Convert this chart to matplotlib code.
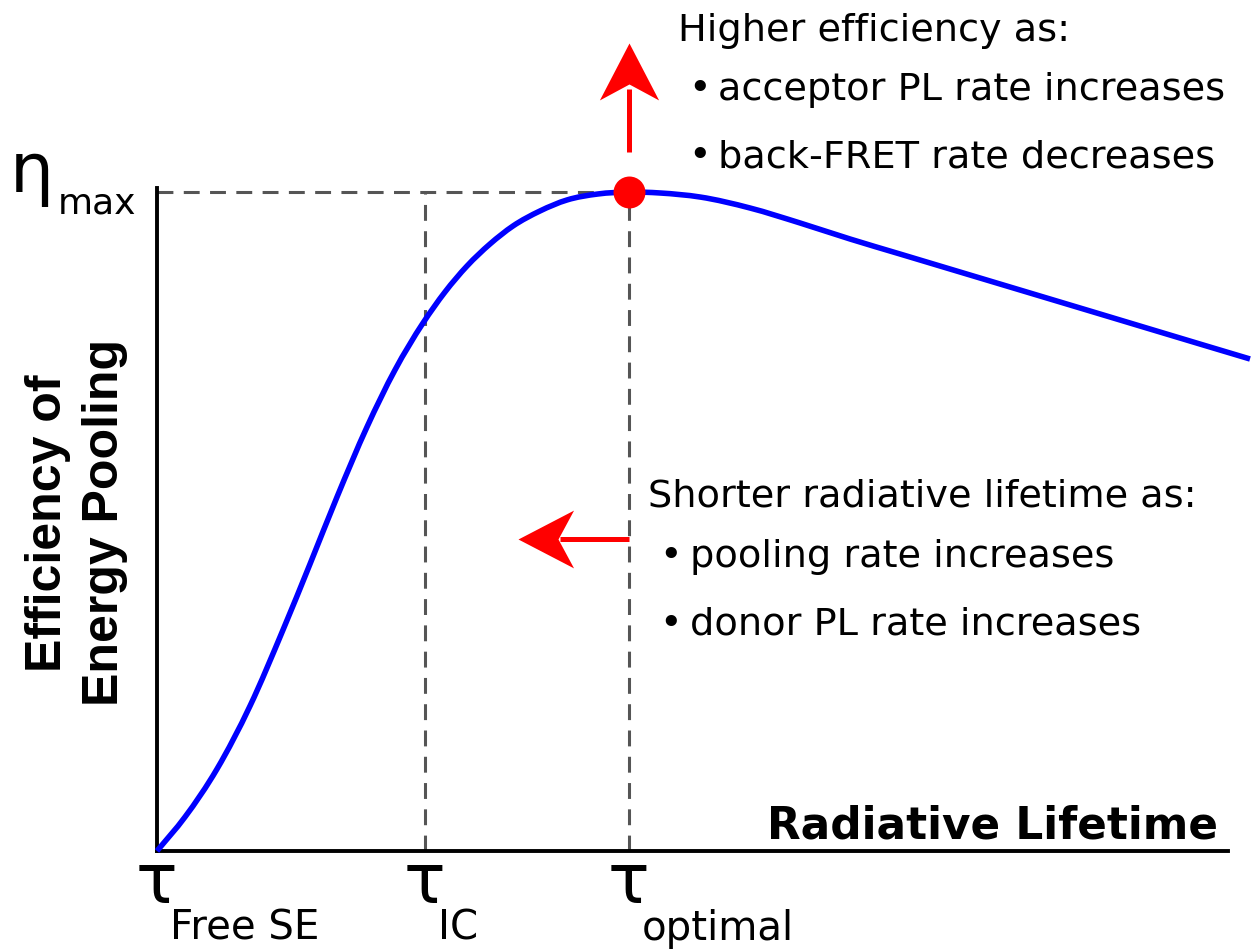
import matplotlib
matplotlib.use("Agg")
import matplotlib.pyplot as plt
import matplotlib.transforms as mtransforms
from matplotlib.path import Path
from matplotlib.patches import PathPatch

# ---- data (relative units: tau_optimal = 1, eta_max = 1) ----
lifetime = [0.0, 0.0593, 0.1271, 0.1970, 0.2669, 0.3242, 0.3814, 0.4449, 0.5042,
            0.5636, 0.6102, 0.6568, 0.7055, 0.7542, 0.8114, 0.8686, 0.9343, 1.0,
            1.0657, 1.1504, 1.2564, 1.3623, 1.4682, 1.5742, 1.7860, 1.9979,
            2.2097, 2.3157]
efficiency = [0.0, 0.0516, 0.1244, 0.2200, 0.3354, 0.4355, 0.5372, 0.6434, 0.7299,
              0.8012, 0.8483, 0.8877, 0.9211, 0.9484, 0.9712, 0.9879, 0.9970, 1.0,
              0.9985, 0.9924, 0.9757, 0.9530, 0.9287, 0.9059, 0.8604, 0.8149,
              0.7693, 0.7466]
tau_free_se = 0.0
tau_ic = 0.568
tau_opt = 1.0
eta_max = 1.0
xtick_pos = [tau_free_se, tau_ic, tau_opt]
xtick_subs = ['Free SE', 'IC', 'optimal']
tau_sym = '\u03c4'
eta_sym = '\u03b7'
eta_sub = 'max'
x_title = 'Radiative Lifetime'
y_title_lines = ['Efficiency of', 'Energy Pooling']
up_title = 'Higher efficiency as:'
up_items = ['acceptor PL rate increases', 'back-FRET rate decreases']
left_title = 'Shorter radiative lifetime as:'
left_items = ['pooling rate increases', 'donor PL rate increases']

plt.rcParams['font.family'] = ['DejaVu Sans']

W, H = 1258, 953
fig = plt.figure(figsize=(W / 100, H / 100), dpi=100)

def fx(px):
    return px / W

def fy(py):
    return 1 - py / H

X0, Y0, XU, YU = 157, 852, 472, 659   # axes origin (px) and unit lengths (px)

def dy(py):
    return (Y0 - py) / YU

ax = fig.add_axes([fx(X0), fy(Y0), (W - X0) / W, Y0 / H])
ax.set_xlim(0, (W - X0) / XU)
ax.set_ylim(0, Y0 / YU)
ax.set_xticks([])
ax.set_yticks([])
for s in ['top', 'right']:
    ax.spines[s].set_visible(False)
ax.spines['left'].set_linewidth(2.8)
ax.spines['bottom'].set_linewidth(2.8)
ax.spines['left'].set_bounds(0, dy(189))
ax.spines['bottom'].set_bounds(0, (1228 - X0) / XU)

dash_kw = dict(color='#555555', lw=2.2, dashes=(5.2, 3.4), zorder=1)
ax.plot([0, tau_opt], [eta_max, eta_max], **dash_kw)
ax.plot([tau_ic, tau_ic], [0, eta_max], **dash_kw)
ax.plot([tau_opt, tau_opt], [0, eta_max], **dash_kw)

# smooth curve through the points (cubic Hermite with weighted tangents -> Bezier)
n = len(lifetime)
h = [lifetime[i + 1] - lifetime[i] for i in range(n - 1)]
d = [(efficiency[i + 1] - efficiency[i]) / h[i] for i in range(n - 1)]
m = [d[0]]
for i in range(1, n - 1):
    m.append((d[i - 1] * h[i] + d[i] * h[i - 1]) / (h[i - 1] + h[i]))
m.append(d[-1])
verts = [(lifetime[0], efficiency[0])]
codes = [Path.MOVETO]
for i in range(n - 1):
    x1, y1, x2, y2 = lifetime[i], efficiency[i], lifetime[i + 1], efficiency[i + 1]
    verts += [(x1 + h[i] / 3, y1 + m[i] * h[i] / 3),
              (x2 - h[i] / 3, y2 - m[i + 1] * h[i] / 3), (x2, y2)]
    codes += [Path.CURVE4] * 3
ax.add_patch(PathPatch(Path(verts, codes), fill=False, edgecolor='#0000ff',
                       lw=4, zorder=3, clip_on=False, capstyle='butt'))
ax.plot([tau_opt], [eta_max], 'o', color='#ff0000', ms=23, mew=0, zorder=4)

# arrows
head_up = Path([(0, 0), (-0.52, -1), (0, -0.72), (0.52, -1), (0, 0)],
               [Path.MOVETO, Path.LINETO, Path.LINETO, Path.LINETO, Path.CLOSEPOLY])
head_left = Path([(0, 0), (1, 0.52), (0.72, 0), (1, -0.52), (0, 0)],
                 [Path.MOVETO, Path.LINETO, Path.LINETO, Path.LINETO, Path.CLOSEPOLY])
ax.plot([tau_opt, tau_opt], [dy(153), dy(90)], color='#ff0000', lw=3.6,
        clip_on=False, solid_capstyle='butt')
ax.plot([tau_opt], [dy(44)], marker=head_up, ms=82, color='#ff0000', mew=0,
        clip_on=False)
ax.plot([(560 - X0) / XU, tau_opt], [dy(540), dy(540)], color='#ff0000', lw=3.6,
        solid_capstyle='butt')
ax.plot([(518 - X0) / XU], [dy(540)], marker=head_left, ms=80, color='#ff0000',
        mew=0)

# tick-like labels
for xp, sub in zip(xtick_pos, xtick_subs):
    tr1 = ax.transData + mtransforms.ScaledTranslation(-21 / 100, 0, fig.dpi_scale_trans)
    ax.text(xp, dy(903), tau_sym, fontsize=50, ha='left', va='baseline',
            transform=tr1, clip_on=False)
    tr2 = ax.transData + mtransforms.ScaledTranslation(13 / 100, 0, fig.dpi_scale_trans)
    ax.text(xp, dy(940), sub, fontsize=29, ha='left', va='baseline',
            transform=tr2, clip_on=False)
fig.text(fx(10), fy(193), eta_sym, fontsize=50, ha='left', va='baseline')
fig.text(fx(58), fy(214), eta_sub, fontsize=26, ha='left', va='baseline')

# axis titles
fig.text(fx(1218), fy(826), x_title, fontsize=31.5, fontweight='bold',
         ha='right', va='center')
for xc, line in zip([48, 105], y_title_lines):
    fig.text(fx(xc), fy(523), line, fontsize=36, fontweight='bold',
             family=['Liberation Sans', 'DejaVu Sans'], rotation=90,
             ha='center', va='center')

# annotations
tkw = dict(fontsize=27.5, va='center', ha='left')
fig.text(fx(678), fy(31), up_title, **tkw)
for i, t in enumerate(up_items):
    fig.text(fx(688), fy(90 + 67 * i), '\u2022', **tkw)
    fig.text(fx(718), fy(90 + 67 * i), t, **tkw)
fig.text(fx(648), fy(497), left_title, **tkw)
for i, t in enumerate(left_items):
    fig.text(fx(659), fy(557 + 68 * i), '\u2022', **tkw)
    fig.text(fx(690), fy(557 + 68 * i), t, **tkw)

fig.savefig('out.png', dpi=100)
